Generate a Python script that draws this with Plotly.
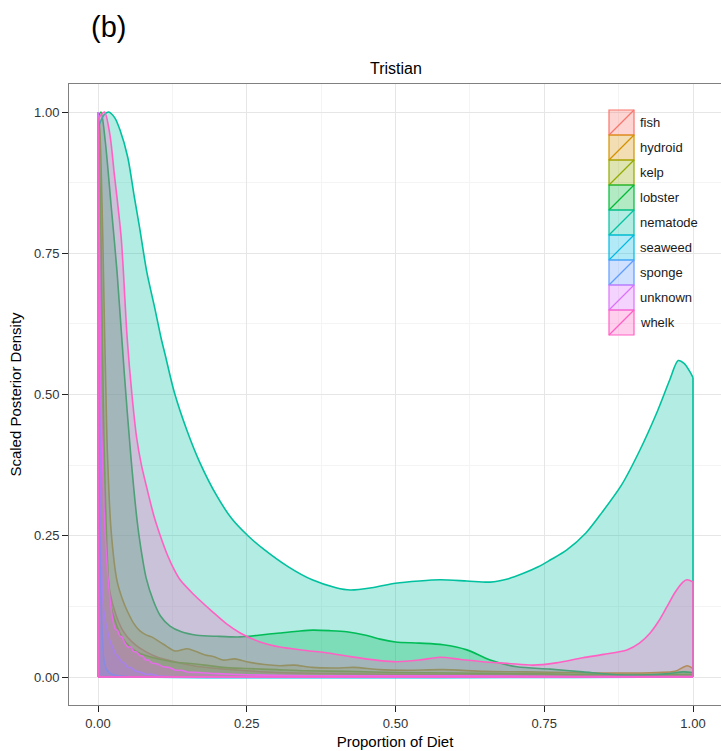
import plotly.graph_objects as go

# Scaled posterior densities of diet proportions, Tristian
species = ["fish", "hydroid", "kelp", "lobster", "nematode",
           "seaweed", "sponge", "unknown", "whelk"]
colors = ["#F8766D", "#D39200", "#93AA00", "#00BA38", "#00C19F",
          "#00B9E3", "#619CFF", "#DB72FB", "#FF61C3"]

fish_x = [0, .003, .006, .01, .015, .02, .03, .04, .05, .065, .08, .1, .13,
          .16, .2, .25, .3, .4, .5, .7, 1.0]
fish_y = [1.0, .8, .5, .3, .2, .15, .11, .085, .07, .055, .045, .035, .027,
          .02, .015, .011, .008, .006, .005, .004, .003]

hydroid_x = [0, .003, .008, .015, .022, .032, .042, .05, .06, .07, .08, .09,
             .11, .13, .15, .165, .18, .195, .21, .23, .25, .28, .306, .33,
             .36, .40, .43, .474, .52, .58, .65, .72, .80, .88, .94, .97,
             .99, 1.0]
hydroid_y = [1.0, .97, .78, .423, .26, .17, .135, .115, .095, .082, .075,
             .071, .058, .046, .05, .045, .039, .036, .03, .032, .027, .022,
             .02, .021, .017, .016, .017, .013, .012, .013, .01, .009, .008,
             .007, .008, .01, .02, .015]

kelp_x = [0, .004, .008, .01, .014, .018, .022, .03, .04, .055, .07, .09,
          .11, .13, .155, .18, .21, .25, .3, .35, .42, .5, .6, .7, .8, .9,
          1.0]
kelp_y = [1.0, .85, .55, .423, .26, .163, .125, .095, .071, .052, .042,
          .035, .03, .026, .024, .021, .017, .015, .013, .011, .01, .008,
          .007, .006, .005, .005, .005]

lobster_x = [0, .005, .012, .022, .032, .044, .055, .066, .071, .081, .093,
             .105, .121, .14, .166, .2, .239, .27, .306, .335, .361, .39,
             .418, .45, .474, .50, .54, .58, .62, .659, .704, .76, .815,
             .872, .928, .96, .983, 1.0]
lobster_y = [.99, 1.0, .95, .835, .717, .54, .393, .274, .235, .175, .135,
             .108, .09, .08, .074, .072, .071, .074, .078, .081, .083, .082,
             .08, .074, .067, .062, .06, .057, .048, .03, .018, .014, .009,
             .004, .004, .006, .009, .008]

nematode_x = [0, .005, .01, .018, .028, .037, .05, .061, .07, .082, .095,
              .106, .113, .128, .15, .171, .2, .225, .252, .28, .32, .36,
              .40, .424, .46, .50, .54, .575, .62, .659, .69, .714, .74,
              .76, .788, .82, .844, .88, .91, .94, .961, .975, .985, .995,
              1.0]
nematode_y = [.97, .985, .995, 1.0, .99, .968, .92, .85, .795, .717, .655,
              .60, .57, .505, .435, .38, .32, .28, .25, .225, .195, .172,
              .158, .154, .158, .166, .17, .172, .17, .168, .174, .183,
              .195, .207, .225, .255, .287, .34, .40, .47, .526, .56, .555,
              .54, .53]

seaweed_x = [0, .002, .004, .007, .01, .015, .025, .05, 1.0]
seaweed_y = [1.0, .5, .2, .08, .03, .012, .004, .001, 0]

sponge_x = [0, .002, .004, .006, .008, .012, .016, .02, .025, .03, .034,
            .04, .045, .05, .055, .062, .07, .08, .09, .1, .118, .2, 1.0]
sponge_y = [1.0, .7, .4, .22, .136, .1, .082, .064, .052, .04, .036, .027,
            .024, .017, .017, .011, .009, .005, .005, .002, .001, .0005, 0]

unknown_x = [0, .005, .01, .015, .02, .025, .029, .033, .037, .04, .045,
             .05, .055, .06, .065, .07, .075, .08, .085, .09, .1, .11, .12,
             .13, .14, .15, .17, .2, .25, .3, .4, .6, .8, 1.0]
unknown_y = [1.0, .5, .3, .2, .14, .1, .085, .082, .072, .071, .06, .053,
             .053, .045, .044, .038, .037, .03, .03, .025, .023, .018, .017,
             .012, .012, .009, .008, .006, .004, .003, .002, .002, .001,
             .001]

whelk_x = [0, .005, .011, .02, .027, .039, .049, .057, .065, .073, .082,
           .094, .106, .117, .128, .138, .16, .193, .215, .239, .27, .306,
           .35, .39, .424, .474, .502, .54, .575, .61, .647, .69, .731, .77,
           .815, .85, .889, .91, .928, .943, .956, .97, .983, .99, 1.0]
whelk_y = [.985, .995, 1.0, .96, .894, .777, .60, .50, .423, .375, .335,
           .285, .246, .215, .19, .172, .147, .115, .095, .078, .063, .053,
           .047, .042, .036, .029, .027, .03, .035, .031, .027, .024, .021,
           .025, .034, .04, .048, .06, .078, .10, .124, .15, .168, .172,
           .168]

series_x = [fish_x, hydroid_x, kelp_x, lobster_x, nematode_x,
            seaweed_x, sponge_x, unknown_x, whelk_x]
series_y = [fish_y, hydroid_y, kelp_y, lobster_y, nematode_y,
            seaweed_y, sponge_y, unknown_y, whelk_y]

x_ticks = [0, 0.25, 0.5, 0.75, 1.0]
x_tick_text = ["0.00", "0.25", "0.50", "0.75", "1.00"]
y_ticks = [0, 0.25, 0.5, 0.75, 1.0]
y_tick_text = ["0.00", "0.25", "0.50", "0.75", "1.00"]


def rgba(hex_color, alpha):
    h = hex_color.lstrip("#")
    r, g, b = int(h[0:2], 16), int(h[2:4], 16), int(h[4:6], 16)
    return f"rgba({r},{g},{b},{alpha})"


fig = go.Figure()
for name, col, xs, ys in zip(species, colors, series_x, series_y):
    # smoothed density curve filled down to zero
    fig.add_trace(go.Scatter(
        x=xs, y=ys, mode="lines", fill="tozeroy", name=name,
        fillcolor=rgba(col, 0.3),
        line=dict(color=col, width=1.6, shape="spline", smoothing=0.8),
        showlegend=False, hoverinfo="skip"))
    # outline of the polygon: left edge, right edge and baseline
    fig.add_trace(go.Scatter(
        x=[xs[0], xs[0], None, xs[-1], xs[-1], None, xs[0], xs[-1]],
        y=[0, ys[0], None, ys[-1], 0, None, 0, 0],
        mode="lines", line=dict(color=col, width=1.6),
        showlegend=False, hoverinfo="skip"))

# plot-area geometry in pixels
W, H = 721, 751
L, T, B = 69, 84, 46
plot_w = W - L
plot_h = H - T - B


def to_paper(px, py):
    return (px - L) / plot_w, (H - B - py) / plot_h


font_family = "Liberation Sans, Arial, sans-serif"
shapes = []
annotations = []

# legend keys: tinted box with a diagonal stroke
key_x0, key_x1 = 609, 634
key_top, key_h = 110, 25
for i, (name, col) in enumerate(zip(species, colors)):
    y0 = key_top + i * key_h
    y1 = y0 + key_h
    ax0, ay0 = to_paper(key_x0, y1)
    ax1, ay1 = to_paper(key_x1, y0)
    shapes.append(dict(type="rect", xref="paper", yref="paper",
                       x0=ax0, y0=ay0, x1=ax1, y1=ay1,
                       fillcolor=rgba(col, 0.3),
                       line=dict(color=col, width=1.2)))
    shapes.append(dict(type="line", xref="paper", yref="paper",
                       x0=ax0, y0=ay0, x1=ax1, y1=ay1,
                       line=dict(color=col, width=1.2)))
    tx, ty = to_paper(638, (y0 + y1) / 2)
    annotations.append(dict(text=name, xref="paper", yref="paper",
                            x=tx, y=ty, xanchor="left", yanchor="middle",
                            showarrow=False,
                            font=dict(size=13, color="#1a1a1a",
                                      family=font_family)))

tx, ty = to_paper(396, 68)
annotations.append(dict(text="Tristian", xref="paper", yref="paper",
                        x=tx, y=ty, xanchor="center", yanchor="middle",
                        showarrow=False,
                        font=dict(size=16, color="#000000",
                                  family=font_family)))
tx, ty = to_paper(89, 27)
annotations.append(dict(text="(b)", xref="paper", yref="paper",
                        x=tx, y=ty, xanchor="left", yanchor="middle",
                        showarrow=False,
                        font=dict(size=29, color="#000000",
                                  family=font_family)))

x_lo = (L - 98) / 595
x_hi = (W - 98) / 595
y_lo = (677 - (H - B)) / 565
y_hi = (677 - T) / 565

fig.update_layout(
    width=W, height=H,
    margin=dict(l=L, r=0, t=T, b=B, pad=0),
    plot_bgcolor="white", paper_bgcolor="white",
    font=dict(family=font_family, color="#333333"),
    shapes=shapes, annotations=annotations,
    xaxis=dict(range=[x_lo, x_hi], tickvals=x_ticks, ticktext=x_tick_text,
               showline=True, mirror=True, linecolor="#808080", linewidth=1,
               ticks="outside", ticklen=6, tickcolor="#222222", tickwidth=1.2,
               showgrid=True, gridcolor="#e6e6e6", gridwidth=1,
               minor=dict(dtick=0.125, tick0=0, showgrid=True,
                          gridcolor="#f4f4f4", gridwidth=1),
               zeroline=False,
               tickfont=dict(size=13, color="#333333"),
               title=dict(text="Proportion of Diet", standoff=6,
                          font=dict(size=15, color="#000000"))),
    yaxis=dict(range=[y_lo, y_hi], tickvals=y_ticks, ticktext=y_tick_text,
               showline=True, mirror=False, linecolor="#808080", linewidth=1,
               ticks="outside", ticklen=6, tickcolor="#222222", tickwidth=1.2,
               showgrid=True, gridcolor="#e6e6e6", gridwidth=1,
               minor=dict(dtick=0.125, tick0=0, showgrid=True,
                          gridcolor="#f4f4f4", gridwidth=1),
               zeroline=False,
               tickfont=dict(size=13, color="#333333"),
               title=dict(text="Scaled Posterior Density", standoff=8,
                          font=dict(size=15, color="#000000"))),
)

fig.write_html("out.html")
